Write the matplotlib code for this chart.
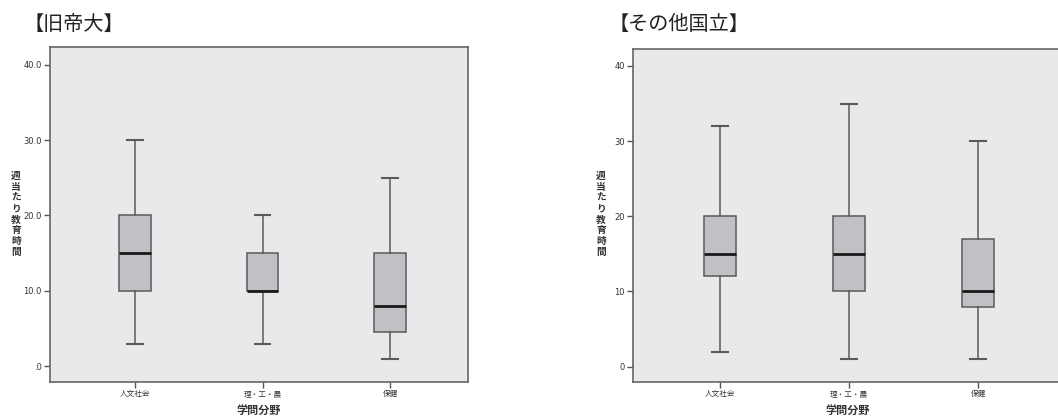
import matplotlib.pyplot as plt
from matplotlib.ticker import FixedLocator

plt.rcParams["font.family"] = ["Noto Sans CJK JP", "DejaVu Sans"]

categories = ["人文社会", "理・工・農", "保健"]

# 旧帝大
old_whislo = [3, 3, 1]
old_q1 = [10, 10, 4.5]
old_med = [15, 10, 8]
old_q3 = [20, 15, 15]
old_whishi = [30, 20, 25]
old_ticks = [0, 10, 20, 30, 40]
old_ticklabels = [".0", "10.0", "20.0", "30.0", "40.0"]

# その他国立
oth_whislo = [2, 1, 1]
oth_q1 = [12, 10, 8]
oth_med = [15, 15, 10]
oth_q3 = [20, 20, 17]
oth_whishi = [32, 35, 30]
oth_ticks = [0, 10, 20, 30, 40]
oth_ticklabels = ["0", "10", "20", "30", "40"]

W, H = 1058, 417
BG = "#e8e9eb"
BOX = "#c1c1c5"
EDGE = "#5a5a5a"


def stats(lo, q1, med, q3, hi):
    return [dict(whislo=a, q1=b, med=c, q3=d, whishi=e, fliers=[])
            for a, b, c, d, e in zip(lo, q1, med, q3, hi)]


def draw(rect, st, ticks, ticklabels, ylim, xlim, title, title_x):
    ax = fig.add_axes(rect)
    ax.set_facecolor(BG)
    ax.bxp(
        st, positions=range(len(st)), widths=0.25, capwidths=0.125,
        patch_artist=True, showfliers=False,
        boxprops=dict(facecolor=BOX, edgecolor=EDGE, linewidth=1.1),
        whiskerprops=dict(color=EDGE, linewidth=1.1),
        capprops=dict(color=EDGE, linewidth=1.5),
        medianprops=dict(color="#1a1a1a", linewidth=2.0),
    )
    ax.set_xlim(*xlim)
    ax.set_ylim(*ylim)
    ax.yaxis.set_major_locator(FixedLocator(ticks))
    ax.set_yticklabels(ticklabels, fontsize=6, color="#333333",
                       family=["DejaVu Sans"])
    ax.set_xticks(range(len(categories)))
    ax.set_xticklabels(categories, fontsize=5.5, color="#333333")
    ax.tick_params(length=4, width=1, color="#555555", pad=2)
    for s in ax.spines.values():
        s.set_color("#666666")
        s.set_linewidth(1.2)
    ax.set_xlabel("学問分野", fontsize=8, fontweight="bold", color="#333333",
                  labelpad=4)
    fig.text(title_x / W, 1 - 24 / H, title, fontsize=14.5, va="center",
             ha="left", color="#222222")
    return ax


fig = plt.figure(figsize=(W / 100, H / 100), dpi=100)

draw([50 / W, 1 - 382 / H, 418 / W, 335 / H],
     stats(old_whislo, old_q1, old_med, old_q3, old_whishi),
     old_ticks, old_ticklabels, (-2.1, 42.35), (-0.667, 2.612),
     "【旧帝大】", 24)

draw([633 / W, 1 - 382 / H, 429 / W, 333 / H],
     stats(oth_whislo, oth_q1, oth_med, oth_q3, oth_whishi),
     oth_ticks, oth_ticklabels, (-2.04, 42.26), (-0.674, 2.65),
     "【その他国立】", 609)

ylabel = "\n".join("週当たり教育時間")
for x in (16, 601):
    fig.text(x / W, 1 - 214 / H, ylabel, fontsize=7, fontweight="bold",
             color="#333333", ha="center", va="center", linespacing=1.12)

fig.savefig("out.png", dpi=100)
